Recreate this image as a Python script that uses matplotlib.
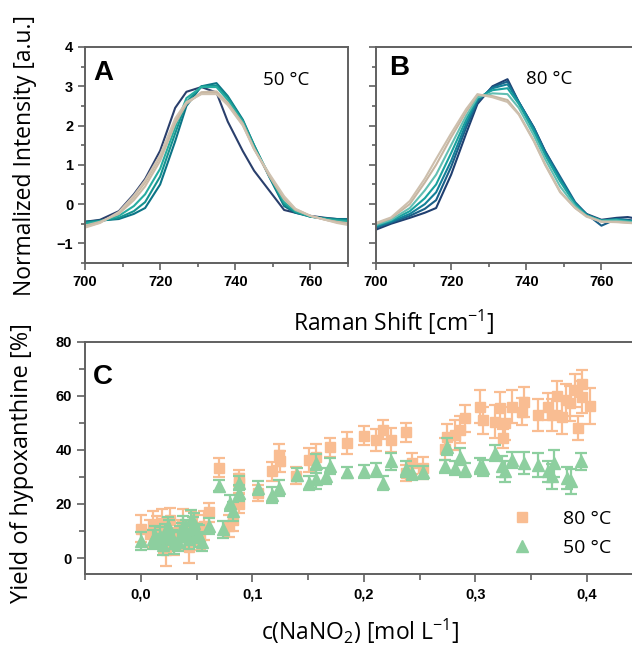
import matplotlib
matplotlib.use("Agg")
import matplotlib.pyplot as plt
from matplotlib.ticker import MultipleLocator, FuncFormatter
from matplotlib.font_manager import FontProperties

plt.rcParams['mathtext.fontset'] = 'custom'
plt.rcParams['mathtext.rm'] = 'Open Sans'
plt.rcParams['mathtext.it'] = 'Open Sans'

# ---------------- data: Raman spectra ----------------
shift = [700, 704, 709, 713, 716, 720, 724, 727, 731, 735, 738, 742, 745, 749, 753, 756, 760, 764, 767, 771]

a_navy   = [-0.45, -0.40, -0.18, 0.25, 0.64, 1.36, 2.45, 2.86, 2.98, 2.84, 2.10, 1.35, 0.85, 0.35, -0.15, -0.22, -0.30, -0.35, -0.38, -0.40]
a_teal1  = [-0.45, -0.42, -0.38, -0.25, -0.10, 0.50, 1.60, 2.50, 3.00, 3.08, 2.75, 2.15, 1.50, 0.70, -0.05, -0.22, -0.32, -0.36, -0.38, -0.38]
a_teal2  = [-0.47, -0.43, -0.35, -0.18, 0.05, 0.70, 1.80, 2.60, 3.00, 3.02, 2.72, 2.12, 1.50, 0.72, 0.00, -0.20, -0.32, -0.37, -0.40, -0.42]
a_teal3  = [-0.50, -0.44, -0.30, -0.05, 0.25, 0.90, 1.95, 2.70, 2.98, 2.98, 2.65, 2.10, 1.45, 0.75, 0.05, -0.18, -0.32, -0.38, -0.42, -0.45]
a_beige1 = [-0.55, -0.45, -0.25, 0.10, 0.45, 1.10, 2.05, 2.55, 2.85, 2.87, 2.58, 2.05, 1.42, 0.72, 0.12, -0.15, -0.30, -0.40, -0.45, -0.50]
a_beige2 = [-0.58, -0.47, -0.22, 0.18, 0.55, 1.20, 2.12, 2.57, 2.82, 2.83, 2.55, 2.02, 1.40, 0.75, 0.16, -0.13, -0.30, -0.40, -0.46, -0.52]
a_beige3 = [-0.60, -0.48, -0.20, 0.22, 0.60, 1.25, 2.18, 2.60, 2.80, 2.80, 2.52, 2.00, 1.40, 0.78, 0.20, -0.12, -0.30, -0.40, -0.48, -0.55]

b_navy   = [-0.65, -0.50, -0.35, -0.22, -0.10, 0.75, 1.80, 2.55, 3.00, 3.18, 2.60, 1.95, 1.35, 0.65, 0.00, -0.25, -0.40, -0.35, -0.33, -0.40]
b_blue   = [-0.60, -0.47, -0.30, -0.12, 0.10, 0.95, 1.95, 2.60, 2.98, 3.12, 2.60, 1.95, 1.35, 0.70, 0.05, -0.25, -0.55, -0.38, -0.40, -0.45]
b_teal1  = [-0.58, -0.45, -0.25, 0.00, 0.30, 1.10, 2.05, 2.65, 2.95, 3.05, 2.60, 1.92, 1.30, 0.65, 0.02, -0.27, -0.42, -0.38, -0.42, -0.45]
b_teal2  = [-0.55, -0.42, -0.18, 0.15, 0.50, 1.30, 2.15, 2.70, 2.90, 2.95, 2.55, 1.85, 1.25, 0.58, 0.00, -0.28, -0.42, -0.40, -0.43, -0.47]
b_teal3  = [-0.53, -0.40, -0.10, 0.35, 0.75, 1.50, 2.25, 2.72, 2.82, 2.80, 2.45, 1.75, 1.15, 0.45, -0.05, -0.30, -0.43, -0.42, -0.45, -0.48]
b_beige1 = [-0.50, -0.36, 0.00, 0.55, 1.00, 1.70, 2.35, 2.78, 2.75, 2.65, 2.30, 1.62, 1.02, 0.32, -0.10, -0.30, -0.45, -0.45, -0.47, -0.50]
b_beige2 = [-0.48, -0.34, 0.08, 0.65, 1.15, 1.80, 2.42, 2.80, 2.72, 2.60, 2.28, 1.60, 1.00, 0.30, -0.10, -0.32, -0.45, -0.46, -0.48, -0.50]

spectra_a = [a_navy, a_teal1, a_teal2, a_teal3, a_beige1, a_beige2, a_beige3]
colors_a = ['#2a3f6c', '#0c7486', '#14938f', '#27aca0', '#cbbba7', '#c8b7a2', '#d0c2b0']
spectra_b = [b_navy, b_blue, b_teal1, b_teal2, b_teal3, b_beige1, b_beige2]
colors_b = ['#1f3f70', '#1a5f88', '#137f98', '#18a19e', '#62bfb3', '#c6b6a2', '#cdbfad']

# ---------------- data: yield ----------------
c80 = [0.000, 0.008, 0.011, 0.015, 0.019, 0.021, 0.023, 0.026, 0.026, 0.030, 0.033, 0.038, 0.040, 0.043, 0.045,
       0.047, 0.050, 0.053, 0.057, 0.061, 0.070, 0.079, 0.083, 0.088, 0.088, 0.088, 0.105, 0.118, 0.124, 0.125,
       0.139, 0.151, 0.157, 0.170, 0.185, 0.200, 0.211, 0.217, 0.224, 0.238, 0.238, 0.243, 0.253, 0.273, 0.275,
       0.282, 0.286, 0.291, 0.304, 0.307, 0.318, 0.322, 0.325, 0.327, 0.333, 0.342, 0.344, 0.356, 0.365, 0.369,
       0.373, 0.378, 0.381, 0.385, 0.389, 0.392, 0.396, 0.396, 0.403]
y80 = [10.8, 9.0, 12.4, 10.0, 13.0, 7.0, 3.0, 14.0, 8.0, 6.0, 9.0, 12.0, 8.0, 4.0, 11.8,
       10.0, 11.0, 8.0, 12.0, 17.0, 33.3, 11.8, 14.0, 20.0, 27.7, 29.6, 24.0, 32.0, 38.0, 35.7,
       30.5, 36.3, 37.5, 40.9, 42.5, 45.2, 43.7, 47.4, 43.7, 46.5, 31.4, 35.0, 33.3, 40.2, 44.7,
       45.5, 47.4, 51.7, 56.0, 51.0, 50.4, 55.3, 44.3, 49.8, 56.0, 54.1, 57.8, 52.9, 56.0, 52.9,
       59.9, 52.3, 58.4, 57.2, 62.0, 48.0, 64.5, 59.6, 56.2]
e80 = [5.0, 5.0, 5.0, 5.5, 5.0, 5.0, 6.0, 4.5, 5.0, 5.0, 5.0, 6.0, 5.0, 6.0, 5.5,
       5.0, 5.0, 5.0, 5.5, 3.5, 3.5, 4.0, 4.0, 3.5, 3.5, 3.0, 3.0, 3.5, 4.0, 4.0,
       3.0, 4.5, 4.5, 3.5, 4.0, 3.5, 4.0, 3.5, 4.5, 3.5, 3.0, 4.0, 4.0, 4.0, 5.0,
       5.5, 5.0, 5.0, 6.0, 5.0, 6.0, 6.0, 3.5, 6.0, 6.0, 5.0, 5.5, 6.0, 5.0, 6.0,
       5.5, 6.5, 6.0, 6.5, 6.0, 4.5, 5.0, 6.0, 6.5]

c50 = [0.000, 0.011, 0.013, 0.017, 0.020, 0.022, 0.024, 0.025, 0.028, 0.030, 0.033, 0.035, 0.037, 0.038,
       0.041, 0.043, 0.045, 0.047, 0.048, 0.050, 0.052, 0.055, 0.061, 0.070, 0.074, 0.080, 0.083, 0.088,
       0.088, 0.105, 0.118, 0.124, 0.140, 0.151, 0.157, 0.157, 0.166, 0.170, 0.185, 0.200, 0.211, 0.217,
       0.224, 0.238, 0.243, 0.253, 0.273, 0.275, 0.282, 0.286, 0.291, 0.304, 0.307, 0.318, 0.324, 0.327,
       0.333, 0.344, 0.356, 0.365, 0.369, 0.371, 0.382, 0.386, 0.395]
y50 = [6.3, 6.9, 8.0, 8.1, 5.0, 9.0, 11.8, 10.0, 7.0, 5.6, 6.0, 8.0, 9.3, 12.0,
       10.0, 7.0, 14.2, 11.0, 13.0, 9.0, 8.1, 6.0, 11.8, 26.7, 10.6, 20.4, 17.3, 27.7,
       24.0, 25.9, 23.2, 25.9, 30.8, 27.7, 35.0, 29.2, 30.2, 33.9, 31.7, 32.0, 32.6, 27.7,
       35.7, 32.9, 31.4, 31.7, 33.9, 41.2, 33.3, 37.5, 32.6, 33.9, 33.3, 38.8, 33.9, 32.0,
       36.3, 35.1, 34.5, 32.0, 30.2, 35.1, 29.6, 28.3, 35.7]
e50 = [3.5, 3.5, 4.0, 3.5, 4.0, 3.5, 3.5, 4.0, 3.5, 4.0, 3.5, 4.0, 3.5, 3.5,
       4.0, 3.5, 3.5, 4.0, 3.5, 3.5, 4.0, 3.5, 3.0, 2.0, 3.0, 3.0, 3.5, 2.5,
       3.0, 2.5, 3.0, 3.0, 2.5, 2.5, 3.5, 3.5, 3.0, 3.0, 2.0, 2.5, 2.5, 2.5,
       3.0, 3.0, 2.5, 2.5, 2.5, 3.0, 2.5, 3.0, 2.5, 3.0, 3.0, 3.0, 4.0, 4.0,
       3.0, 4.0, 4.5, 4.0, 4.5, 5.0, 4.0, 4.5, 3.0]

labels_temp = ['80 °C', '50 °C']
col80 = '#f9bd92'
col50 = '#8dcf9f'

# ---------------- figure ----------------
W, H = 632, 646
fig = plt.figure(figsize=(W / 100, H / 100), dpi=100)

def ax_px(l, t, r, b):
    return fig.add_axes([l / W, 1 - b / H, (r - l) / W, (b - t) / H])

spine_col = '#606060'
tick_fp = FontProperties(family='Liberation Sans', weight='bold', size=10.5)

def style(ax, major=5, minor=3):
    for s in ax.spines.values():
        s.set_color(spine_col)
        s.set_linewidth(1.4)
    ax.tick_params(which='both', direction='out', color=spine_col, width=1.2)
    ax.tick_params(which='major', length=major)
    ax.tick_params(which='minor', length=minor)
    for lab in ax.get_xticklabels() + ax.get_yticklabels():
        lab.set_fontproperties(tick_fp)

axA = ax_px(85, 47, 348, 263)
axB = ax_px(376, 47, 639, 263)
for ax, spectra, cols in [(axA, spectra_a, colors_a), (axB, spectra_b, colors_b)]:
    for y, c in zip(spectra, cols):
        ax.plot(shift, y, color=c, lw=1.5)
    ax.set_xlim(700, 770)
    ax.set_ylim(-1.5, 4)
    ax.xaxis.set_major_locator(MultipleLocator(20))
    ax.xaxis.set_minor_locator(MultipleLocator(10))
    ax.yaxis.set_major_locator(MultipleLocator(1))
    ax.yaxis.set_minor_locator(MultipleLocator(0.5))
    style(ax)
axB.set_yticklabels([])

axA.text(0.03, 0.88, 'A', transform=axA.transAxes, fontsize=20, fontweight='bold',
         family='Liberation Sans', va='center', ha='left')
axB.text(0.05, 0.905, 'B', transform=axB.transAxes, fontsize=20, fontweight='bold',
         family='Liberation Sans', va='center', ha='left')
axA.text(0.764, 0.845, '50 °C', transform=axA.transAxes, fontsize=13.5, family='Open Sans',
         va='center', ha='center')
axB.text(0.66, 0.85, '80 °C', transform=axB.transAxes, fontsize=13.5, family='Open Sans',
         va='center', ha='center')

fig.text(25 / W, 1 - 155 / H, 'Normalized Intensity [a.u.]', rotation=90, ha='center', va='center',
         fontsize=16.5, family='Open Sans')
fig.text(394 / W, 1 - 322 / H, 'Raman Shift [cm$^{-1}$]', ha='center', va='center',
         fontsize=16.5, family='Open Sans')

# ---------------- panel C ----------------
axC = ax_px(85, 341.6, 642.6, 574.3)
eb80 = axC.errorbar(c80, y80, yerr=e80, fmt='s', color=col80, ms=6.5, elinewidth=1.6,
                    capsize=4, capthick=1.6, label=labels_temp[0], zorder=2)
eb50 = axC.errorbar(c50, y50, yerr=e50, fmt='^', color=col50, ms=8, elinewidth=1.6,
                    capsize=4, capthick=1.6, label=labels_temp[1], zorder=3)
axC.set_xlim(-0.05, 0.45)
axC.set_ylim(-6, 80)
axC.xaxis.set_major_locator(MultipleLocator(0.1))
axC.xaxis.set_minor_locator(MultipleLocator(0.05))
axC.yaxis.set_major_locator(MultipleLocator(20))
axC.yaxis.set_minor_locator(MultipleLocator(10))
axC.xaxis.set_major_formatter(FuncFormatter(lambda v, p: f'{v:.1f}'.replace('.', ',')))
style(axC, major=6, minor=4)

axC.text(0.015, 0.85, 'C', transform=axC.transAxes, fontsize=20, fontweight='bold',
         family='Liberation Sans', va='center', ha='left')

leg = axC.legend(handles=[eb80[0], eb50[0]], labels=labels_temp, loc='lower right',
                 bbox_to_anchor=(0.975, 0.0), frameon=False, handletextpad=1.6,
                 prop=dict(family='Open Sans', size=14), labelspacing=0.55, handlelength=1.0)

fig.text(22 / W, 1 - 463 / H, 'Yield of hypoxanthine [%]', rotation=90, ha='center', va='center',
         fontsize=17, family='Open Sans')
fig.text(360 / W, 1 - 631 / H, 'c(NaNO$_2$) [mol L$^{-1}$]', ha='center', va='center',
         fontsize=16.5, family='Open Sans')

fig.savefig('out.png', dpi=100)
